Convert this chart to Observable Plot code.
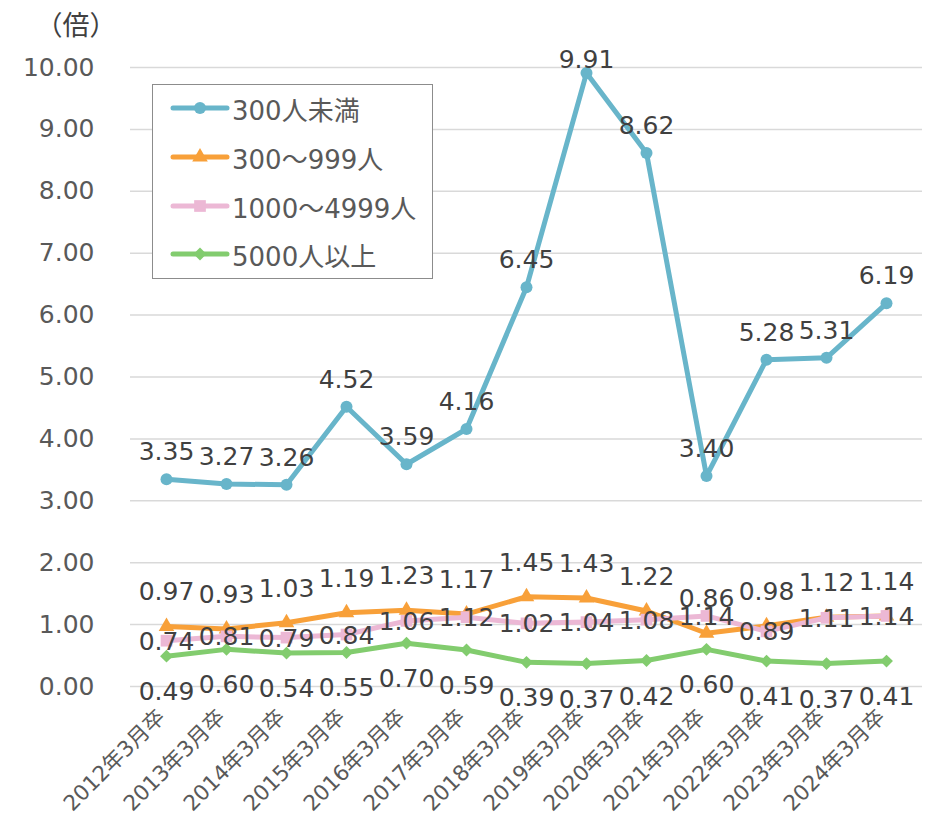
<!DOCTYPE html>
<html>
<head>
<meta charset="utf-8">
<script src="https://cdn.jsdelivr.net/npm/d3@7"></script>
<script src="https://cdn.jsdelivr.net/npm/@observablehq/plot@0.6"></script>
<style>
  html, body { margin: 0; padding: 0; background: #fff; }
  #wrap { position: relative; width: 941px; height: 818px; font-family: "DejaVu Sans", "Noto Sans CJK JP", sans-serif; }
  #unit { position: absolute; left: 30px; top: 4px; width: 92px; text-align: center; font-size: 27px; color: #404040; }
  #legend { position: absolute; left: 152px; top: 84px; width: 279px; height: 193px; border: 1.5px solid #8c8c8c; background: #fff; }
  .row { position: absolute; left: 0; height: 40px; display: flex; align-items: center; }
  .row span { font-size: 26px; color: #595959; margin-left: 0; white-space: nowrap; }
</style>
</head>
<body>
<div id="wrap">
  <div id="chart"></div>
  <div id="unit">（倍）</div>
  <div id="legend"></div>
</div>
<script>
const categories = ["2012年3月卒","2013年3月卒","2014年3月卒","2015年3月卒","2016年3月卒","2017年3月卒","2018年3月卒","2019年3月卒","2020年3月卒","2021年3月卒","2022年3月卒","2023年3月卒","2024年3月卒"];
const seriesNames = ["300人未満","300～999人","1000～4999人","5000人以上"];
const under300 = [3.35,3.27,3.26,4.52,3.59,4.16,6.45,9.91,8.62,3.40,5.28,5.31,6.19];
const s300to999 = [0.97,0.93,1.03,1.19,1.23,1.17,1.45,1.43,1.22,0.86,0.98,1.12,1.14];
const s1000to4999 = [0.74,0.81,0.79,0.84,1.06,1.12,1.02,1.04,1.08,1.14,0.89,1.11,1.14];
const over5000 = [0.49,0.60,0.54,0.55,0.70,0.59,0.39,0.37,0.42,0.60,0.41,0.37,0.41];
const yTicks = [0,1,2,3,4,5,6,7,8,9,10];

const colors = ["#68b5ca","#f8a039","#ecb8d5","#82cc6e"];
const symbols = ["circle","triangle","square","diamond2"];
const radii = [6, 5.8, 6.6, 5.8];
const labelDy = [-27, -34, 1, 36];
const allValues = [under300, s300to999, s1000to4999, over5000];

const rows = [];
allValues.forEach((vals, si) => vals.forEach((v, i) => rows.push({series: seriesNames[si], si, cat: categories[i], value: v})));

const marks = [
  Plot.gridY(yTicks, {stroke: "#d9d9d9", strokeOpacity: 1, strokeWidth: 1.5}),
  Plot.axisY(yTicks, {tickSize: 0, tickPadding: 36, tickFormat: d => d.toFixed(2), fontSize: 25, fill: "#595959", label: null}),
  Plot.axisX({tickSize: 0, tickPadding: 27, dx: -5, tickRotate: -45, fontSize: 21.5, fill: "#595959", label: null})
];
seriesNames.forEach((name, si) => {
  const data = rows.filter(d => d.si === si);
  marks.push(Plot.line(data, {x: "cat", y: "value", stroke: colors[si], strokeWidth: 5, strokeLinejoin: "round", strokeLinecap: "round"}));
  marks.push(Plot.dot(data, {x: "cat", y: "value", symbol: () => symbols[si], r: radii[si], fill: colors[si], stroke: "none"}));
});
seriesNames.forEach((name, si) => {
  const data = rows.filter(d => d.si === si);
  marks.push(Plot.text(data, {
    x: "cat",
    y: d => si === 0 ? Math.min(d.value, 9.68) : d.value,
    text: d => d.value.toFixed(2),
    dy: labelDy[si], fontSize: 25, fill: "#404040"
  }));
});

const chart = Plot.plot({
  width: 941, height: 818,
  marginTop: 67, marginBottom: 132, marginLeft: 130, marginRight: 19,
  style: {fontFamily: '"DejaVu Sans", "Noto Sans CJK JP", sans-serif', background: "transparent"},
  x: {type: "point", domain: categories, padding: 0.5},
  y: {domain: [0, 10]},
  symbol: {type: "identity"},
  marks
});
document.getElementById("chart").appendChild(chart);

// legend
const legend = document.getElementById("legend");
const rowCenters = [23, 72, 121, 169];
seriesNames.forEach((name, si) => {
  const row = document.createElement("div");
  row.className = "row";
  row.style.top = (rowCenters[si] - 20) + "px";
  const svg = d3.create("svg").attr("width", 79).attr("height", 40);
  svg.append("line").attr("x1", 20).attr("x2", 74).attr("y1", 20).attr("y2", 20)
    .attr("stroke", colors[si]).attr("stroke-width", 5).attr("stroke-linecap", "round");
  const symMap = {circle: d3.symbolCircle, triangle: d3.symbolTriangle, square: d3.symbolSquare, diamond2: d3.symbolDiamond2};
  svg.append("path").attr("transform", "translate(47,20)")
    .attr("d", d3.symbol(symMap[symbols[si]], radii[si] * radii[si] * Math.PI)())
    .attr("fill", colors[si]);
  row.appendChild(svg.node());
  const span = document.createElement("span");
  span.textContent = name;
  row.appendChild(span);
  legend.appendChild(row);
});
</script>
</body>
</html>
